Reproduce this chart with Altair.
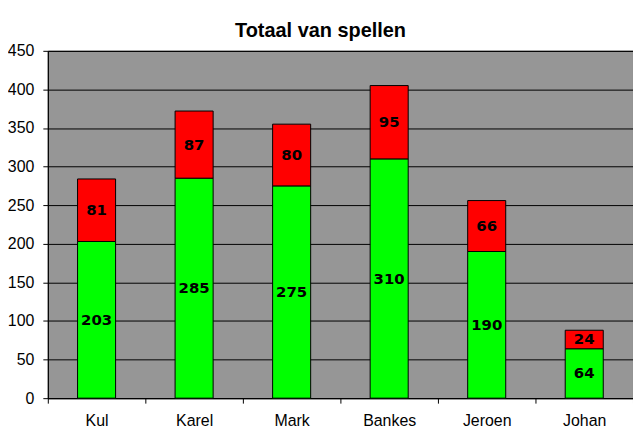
import altair as alt
import pandas as pd

names = ["Kul", "Karel", "Mark", "Bankes", "Jeroen", "Johan"]
groen = [203, 285, 275, 310, 190, 64]
rood = [81, 87, 80, 95, 66, 24]
series = ["groen", "rood"]
colors = ["#00FF00", "#FF0000"]
y_ticks = [0, 50, 100, 150, 200, 250, 300, 350, 400, 450]

rows = []
for n, g, r in zip(names, groen, rood):
    rows.append({"name": n, "serie": series[0], "order": 0, "value": g})
    rows.append({"name": n, "serie": series[1], "order": 1, "value": r})
df = pd.DataFrame(rows)

base = alt.Chart(df).transform_stack(
    stack="value", groupby=["name"], as_=["v0", "v1"],
    sort=[alt.SortField("order", order="ascending")]
).transform_calculate(mid="(datum.v0 + datum.v1) / 2")

x_axis = alt.Axis(labelAngle=0, tickBand="extent", tickSize=5,
                  labelPadding=9, labelFontSize=16,
                  labelFont="Liberation Sans", labelColor="black",
                  domainColor="black", tickColor="black", grid=False)
x_scale = alt.Scale(paddingInner=0, paddingOuter=0)

y_axis = alt.Axis(values=y_ticks, tickSize=5, labelPadding=9,
                  labelFontSize=16, labelFont="Liberation Sans",
                  labelColor="black", domainColor="black",
                  tickColor="black", gridColor="black",
                  gridOpacity=1, gridWidth=1, labelOverlap=False)
y_scale = alt.Scale(domain=[0, 450], nice=False)

bars = base.mark_bar(stroke="black", strokeWidth=1, width={"band": 0.39}).encode(
    x=alt.X("name:N", sort=names, title=None, scale=x_scale, axis=x_axis),
    y=alt.Y("v0:Q", scale=y_scale, title=None, axis=y_axis),
    y2="v1:Q",
    color=alt.Color("serie:N", scale=alt.Scale(domain=series, range=colors),
                    legend=None),
)

labels = base.mark_text(fontWeight="bold", fontSize=15, font="DejaVu Sans",
                        color="black", baseline="middle").encode(
    x=alt.X("name:N", sort=names, title=None, scale=x_scale, axis=x_axis),
    y=alt.Y("mid:Q", scale=y_scale, title=None, axis=y_axis),
    text="value:Q",
)

chart = alt.layer(bars, labels).properties(
    width=588, height=349,
    title=alt.TitleParams("Totaal van spellen", fontSize=20, font="Liberation Sans",
                          fontWeight="bold", color="black", anchor="middle",
                          dx=-20, offset=2),
    autosize=alt.AutoSizeParams(type="none"),
    padding={"left": 40, "top": 42, "right": 0, "bottom": 40},
    background="white",
).configure_view(fill="#969696", stroke="black", strokeWidth=1)

chart.save("out.html", embed_options={"renderer": "svg", "actions": False})
